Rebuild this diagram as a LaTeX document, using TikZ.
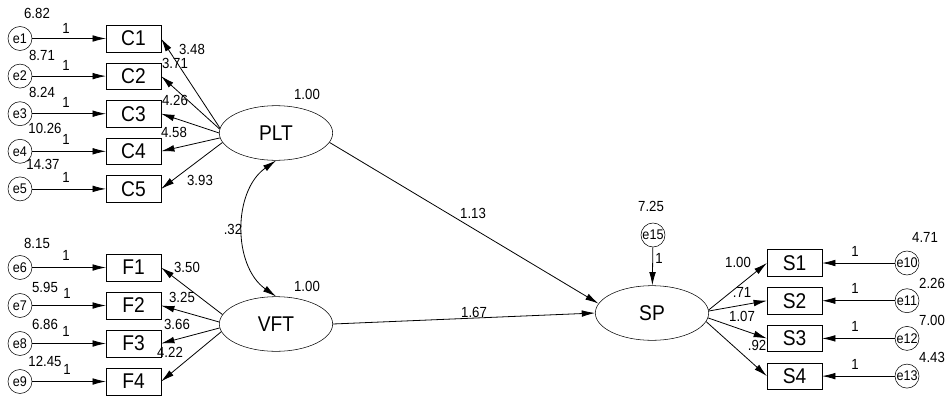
\documentclass[tikz,border=0pt]{standalone}
\usepackage{fontspec}
\setmainfont{Liberation Sans}[FakeStretch=0.9]
\usetikzlibrary{arrows.meta,shapes,calc}

\begin{document}
\begin{tikzpicture}
[x=0.75pt,y=-0.75pt,
obs/.style={draw,rectangle,minimum width=41pt,minimum height=20pt,inner sep=0pt,font=\fontsize{16}{18}\selectfont},
lat/.style={draw,ellipse,minimum width=85pt,minimum height=41pt,inner sep=0pt,font=\fontsize{16}{18}\selectfont},
err/.style={draw,circle,minimum size=18pt,inner sep=0pt,font=\fontsize{10.5}{12}\selectfont},
num/.style={inner sep=0pt,font=\fontsize{11}{12}\selectfont},
dedge/.style={->,>={Latex[length=10pt,width=5pt]},line width=0.6pt}]
\useasboundingbox (0,0) rectangle (948,396);
%% Latent variables
\node[lat] (PLT) at (276,133) {PLT};
\node[lat] (VFT) at (276,324) {VFT};
\node[lat] (SP) at (652,313) {SP};
%%%%%%%%%%%%%%%%%%%%%%%%%%%%%
%% PLT block
% indicators
\node[obs] (C1) at (133.5,38.5) {C1};
\node[obs] (C2) at (133.5,76.1) {C2};
\node[obs] (C3) at (133.5,113.7) {C3};
\node[obs] (C4) at (133.5,151.3) {C4};
\node[obs] (C5) at (133.5,188.9) {C5};
% errors
\node[err] (e1) at (20,38.5) {e1};
\node[err] (e2) at (20,76.1) {e2};
\node[err] (e3) at (20,113.7) {e3};
\node[err] (e4) at (20,151.3) {e4};
\node[err] (e5) at (20,188.9) {e5};
% edges
\draw[dedge] (e1) -- (C1);
\draw[dedge] (e2) -- (C2);
\draw[dedge] (e3) -- (C3);
\draw[dedge] (e4) -- (C4);
\draw[dedge] (e5) -- (C5);
\draw[dedge] (PLT.175) -- (C1.east);
\draw[dedge] (PLT.176) -- (C2.east);
\draw[dedge] (PLT.180) -- (C3.east);
\draw[dedge] (PLT.185) -- (C4.east);
\draw[dedge] (PLT.190) -- (C5.east);
% numbers
\node[num] (v1) at (37,13) {6.82};
\node[num] (v2) at (42,55) {8.71};
\node[num] (v3) at (42,92) {8.24};
\node[num] (v4) at (45,128) {10.26};
\node[num] (v5) at (43,164) {14.37};
\node[num] (w1) at (66,28) {1};
\node[num] (w2) at (66,65) {1};
\node[num] (w3) at (66,102) {1};
\node[num] (w4) at (66,139) {1};
\node[num] (w5) at (66,177) {1};
\node[num] (l1) at (192,49) {3.48};
\node[num] (l2) at (175,63) {3.71};
\node[num] (l3) at (175,100) {4.26};
\node[num] (l4) at (174,132) {4.58};
\node[num] (l5) at (200,180) {3.93};
\node[num] (vPLT) at (307,94) {1.00};
%%%%%%%%%%%%%%%%%%%%%%%%%%%%%
%% VFT block
% indicators
\node[obs] (F1) at (133.5,267.5) {F1};
\node[obs] (F2) at (133.5,305.5) {F2};
\node[obs] (F3) at (133.5,343.5) {F3};
\node[obs] (F4) at (133.5,381.5) {F4};
% errors
\node[err] (e6) at (20,267.5) {e6};
\node[err] (e7) at (20,305.5) {e7};
\node[err] (e8) at (20,343.5) {e8};
\node[err] (e9) at (20,381.5) {e9};
% edges
\draw[dedge] (e6) -- (F1);
\draw[dedge] (e7) -- (F2);
\draw[dedge] (e8) -- (F3);
\draw[dedge] (e9) -- (F4);
\draw[dedge] (VFT.170) -- (F1.east);
\draw[dedge] (VFT.178) -- (F2.east);
\draw[dedge] (VFT.184) -- (F3.east);
\draw[dedge] (VFT.188) -- (F4.east);
% numbers
\node[num] (v6) at (37,243) {8.15};
\node[num] (v7) at (45,287) {5.95};
\node[num] (v8) at (45,324) {6.86};
\node[num] (v9) at (45,361) {12.45};
\node[num] (w6) at (66,255) {1};
\node[num] (w7) at (67,293) {1};
\node[num] (w8) at (66,331) {1};
\node[num] (w9) at (67,369) {1};
\node[num] (l6) at (187,267) {3.50};
\node[num] (l7) at (182,297) {3.25};
\node[num] (l8) at (177,324) {3.66};
\node[num] (l9) at (170,352) {4.22};
\node[num] (vVFT) at (307,286) {1.00};
% covariance
\draw[dedge,<->] (PLT.south) to[bend right=55] (VFT.north);
\node[num] (cov) at (233,229) {.32};
%%%%%%%%%%%%%%%%%%%%%%%%%%%%%
%% SP block
% indicators
\node[obs] (S1) at (794.5,263) {S1};
\node[obs] (S2) at (794.5,300.7) {S2};
\node[obs] (S3) at (794.5,338.4) {S3};
\node[obs] (S4) at (794.5,376.1) {S4};
% errors
\node[err] (e10) at (907,263) {e10};
\node[err] (e11) at (907,300.7) {e11};
\node[err] (e12) at (907,338.4) {e12};
\node[err] (e13) at (907,376.1) {e13};
\node[err] (e15) at (653,235) {e15};
% edges
\draw[dedge] (e10) -- (S1);
\draw[dedge] (e11) -- (S2);
\draw[dedge] (e12) -- (S3);
\draw[dedge] (e13) -- (S4);
\draw[dedge] (SP.3) -- (S1.west);
\draw[dedge] (SP.2) -- (S2.west);
\draw[dedge] (SP.-5) -- (S3.west);
\draw[dedge] (SP.-9) -- (S4.west);
\draw[dedge] (e15) -- (SP);
% numbers
\node[num] (v10) at (925,237) {4.71};
\node[num] (v11) at (932,283) {2.26};
\node[num] (v12) at (932,320) {7.00};
\node[num] (v13) at (932,357) {4.43};
\node[num] (v15) at (651,206) {7.25};
\node[num] (w10) at (855,251) {1};
\node[num] (w11) at (855,288) {1};
\node[num] (w12) at (855,326) {1};
\node[num] (w13) at (855,364) {1};
\node[num] (w15) at (659,258) {1};
\node[num] (l10) at (738,262) {1.00};
\node[num] (l11) at (742,292) {.71};
\node[num] (l12) at (742,316) {1.07};
\node[num] (l13) at (757,345) {.92};
%%%%%%%%%%%%%%%%%%%%%%%%%%%%%
%% Structural paths
\draw[dedge] (PLT.-10) -- (SP.170);
\draw[dedge] (VFT.east) -- (SP.west);
\node[num] (b1) at (473,213) {1.13};
\node[num] (b2) at (474,312) {1.67};
\end{tikzpicture}
\end{document}
